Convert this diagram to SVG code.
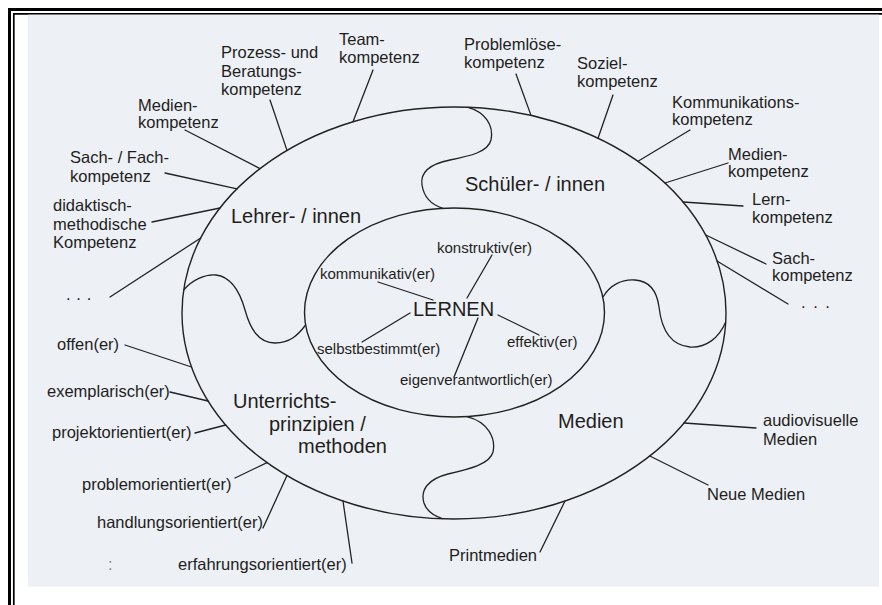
<svg xmlns="http://www.w3.org/2000/svg" width="882" height="605" viewBox="0 0 882 605">
  <style>
    .frame-thick { fill: none; stroke: #000; stroke-width: 3; }
    .frame-thin { fill: none; stroke: #000; stroke-width: 1.7; }
    .ring { fill: none; stroke: #222; stroke-width: 1.4; }
    .piece { fill: none; stroke: #222; stroke-width: 1.3; }
    #connectors line { stroke: #222; stroke-width: 1.3; stroke-linecap: round; }
    text { font-family: "Liberation Sans", Arial, sans-serif; fill: #1e1e1e; }
    .lbl { font-size: 16.5px; }
    .in { font-size: 15px; }
    .big { font-size: 20px; }
  </style>

  <!-- page frame and sheet -->
  <rect x="0" y="0" width="882" height="605" fill="#ffffff"/>
  <path class="frame-thick" d="M9.5,605 V9.5 H882"/>
  <path class="frame-thin" d="M13.8,605 V13.8 H882"/>
  <rect x="28" y="14.7" width="851" height="572" fill="#edf0f4"/>

  <!-- rings and puzzle seams -->
  <g id="rings">
    <ellipse class="ring" cx="454" cy="313" rx="272" ry="206"/>
    <ellipse class="ring" cx="454.5" cy="312.5" rx="150" ry="104.5"/>
    <path class="piece" d="M468,107.3 C485,112 494,125 491,140 C488,152 470,156 450,160 C430,164 420,172 422,185 C424,198 432,205 443,208.3"/>
    <path class="piece" d="M467,416.6 C488,422 496,438 493,452 C490,464 470,469 448,474 C428,479 420,490 424,503 C427,512 434,516 443,518.8"/>
    <path class="piece" d="M183.7,290 C192,280 205,274 216,275 C232,277 240,292 245,310 C250,328 258,343 275,343 C290,343 298,335 305.6,325"/>
    <path class="piece" d="M603,297 C610,285 622,279 635,280 C650,281 657,292 659,307 C661,325 668,345 690,347 C706,348 719,338 725.7,322"/>
  </g>

  <!-- connectors -->
  <g id="connectors">
    <line x1="270" y1="100" x2="287" y2="150.4"/>
    <line x1="373" y1="70" x2="353" y2="121.7"/>
    <line x1="516" y1="74" x2="531" y2="115.4"/>
    <line x1="613" y1="95" x2="598" y2="138.2"/>
    <line x1="690" y1="130" x2="638" y2="161.2"/>
    <line x1="728" y1="163" x2="665" y2="183"/>
    <line x1="743" y1="206" x2="683" y2="202"/>
    <line x1="766" y1="264" x2="705.8" y2="235"/>
    <line x1="788" y1="304" x2="717" y2="261"/>
    <line x1="756" y1="428" x2="684" y2="423"/>
    <line x1="708" y1="485" x2="649.8" y2="456"/>
    <line x1="540" y1="552" x2="565" y2="501"/>
    <line x1="352" y1="563" x2="343" y2="501"/>
    <line x1="263" y1="528" x2="287" y2="475.6"/>
    <line x1="235" y1="478" x2="267" y2="462.6"/>
    <line x1="195" y1="433" x2="225.7" y2="425"/>
    <line x1="170" y1="392" x2="208" y2="401"/>
    <line x1="125" y1="345" x2="191.5" y2="367"/>
    <line x1="110" y1="297" x2="200.7" y2="238"/>
    <line x1="152" y1="222" x2="220" y2="208"/>
    <line x1="165" y1="173" x2="237" y2="188.8"/>
    <line x1="185" y1="130" x2="260" y2="168.6"/>
    <!-- centre spokes -->
    <line x1="467" y1="298" x2="492" y2="255"/>
    <line x1="378" y1="282" x2="433" y2="300"/>
    <line x1="410" y1="313" x2="362" y2="342"/>
    <line x1="498" y1="315" x2="539" y2="335"/>
    <line x1="478" y1="318" x2="454" y2="377"/>
  </g>

  <!-- sector titles -->
  <g id="lehrer"><text class="big" x="231" y="223">Lehrer- / innen</text></g>
  <g id="schueler"><text class="big" x="465" y="191">Schüler- / innen</text></g>
  <g id="unterricht">
    <text class="big" x="233" y="408">Unterrichts-</text>
    <text class="big" x="269" y="431">prinzipien /</text>
    <text class="big" x="298" y="453">methoden</text>
  </g>
  <g id="medien"><text class="big" x="558" y="428">Medien</text></g>

  <!-- centre -->
  <g id="lernen"><text class="big" x="413" y="316">LERNEN</text></g>
  <g id="konstruktiv"><text class="in" x="437" y="253">konstruktiv(er)</text></g>
  <g id="kommunikativ"><text class="in" x="320" y="279">kommunikativ(er)</text></g>
  <g id="selbstbestimmt"><text class="in" x="317" y="354">selbstbestimmt(er)</text></g>
  <g id="effektiv"><text class="in" x="507" y="347">effektiv(er)</text></g>
  <g id="eigenverantwortlich"><text class="in" x="400" y="385">eigenverantwortlich(er)</text></g>

  <!-- teacher competences -->
  <g id="prozess">
    <text class="lbl" x="221" y="58">Prozess- und</text>
    <text class="lbl" x="221" y="77">Beratungs-</text>
    <text class="lbl" x="221" y="95">kompetenz</text>
  </g>
  <g id="team">
    <text class="lbl" x="339" y="45">Team-</text>
    <text class="lbl" x="339" y="63">kompetenz</text>
  </g>
  <g id="medien-l">
    <text class="lbl" x="138" y="111">Medien-</text>
    <text class="lbl" x="138" y="128">kompetenz</text>
  </g>
  <g id="sach-l">
    <text class="lbl" x="70" y="163">Sach- / Fach-</text>
    <text class="lbl" x="70" y="182">kompetenz</text>
  </g>
  <g id="didaktisch">
    <text class="lbl" x="53" y="211">didaktisch-</text>
    <text class="lbl" x="53" y="229.5">methodische</text>
    <text class="lbl" x="53" y="248">Kompetenz</text>
  </g>
  <g id="etc-l"><text class="lbl" x="66" y="300" letter-spacing="0.6">. . .</text></g>

  <!-- student competences -->
  <g id="problemloese">
    <text class="lbl" x="464" y="50">Problemlöse-</text>
    <text class="lbl" x="464" y="68">kompetenz</text>
  </g>
  <g id="sozial">
    <text class="lbl" x="577" y="69">Soziel-</text>
    <text class="lbl" x="577" y="87">kompetenz</text>
  </g>
  <g id="kommunikation">
    <text class="lbl" x="672" y="108">Kommunikations-</text>
    <text class="lbl" x="672" y="125">kompetenz</text>
  </g>
  <g id="medien-r">
    <text class="lbl" x="728" y="160">Medien-</text>
    <text class="lbl" x="728" y="177">kompetenz</text>
  </g>
  <g id="lern">
    <text class="lbl" x="752" y="205">Lern-</text>
    <text class="lbl" x="752" y="223">kompetenz</text>
  </g>
  <g id="sach-r">
    <text class="lbl" x="772" y="264">Sach-</text>
    <text class="lbl" x="772" y="281">kompetenz</text>
  </g>
  <g id="etc-r"><text class="lbl" x="801" y="308" letter-spacing="1.5">. . .</text></g>

  <!-- teaching principles -->
  <g id="offen"><text class="lbl" x="57" y="350">offen(er)</text></g>
  <g id="exemplarisch"><text class="lbl" x="47" y="397">exemplarisch(er)</text></g>
  <g id="projekt"><text class="lbl" x="52" y="438">projektorientiert(er)</text></g>
  <g id="problem"><text class="lbl" x="82" y="490">problemorientiert(er)</text></g>
  <g id="handlung"><text class="lbl" x="97" y="528">handlungsorientiert(er)</text></g>
  <g id="erfahrung"><text class="lbl" x="178" y="570">erfahrungsorientiert(er)</text></g>
  <g id="etc-b"><text class="lbl" x="108" y="570" fill="#8a8a8a" style="fill:#8a8a8a">:</text></g>

  <!-- media -->
  <g id="audiovisuell">
    <text class="lbl" x="763" y="426">audiovisuelle</text>
    <text class="lbl" x="763" y="445">Medien</text>
  </g>
  <g id="neue-medien"><text class="lbl" x="707" y="500">Neue Medien</text></g>
  <g id="printmedien"><text class="lbl" x="449" y="561">Printmedien</text></g>
</svg>
